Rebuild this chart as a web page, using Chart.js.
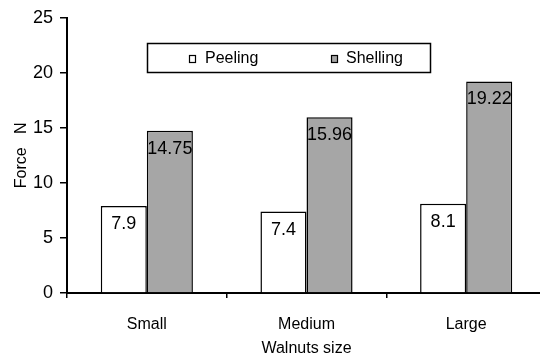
<!DOCTYPE html>
<html><head><meta charset="utf-8">
<script src="https://cdn.jsdelivr.net/npm/chart.js@4"></script>
<style>html,body{margin:0;padding:0;background:#fff;overflow:hidden}canvas{display:block}</style>
</head><body>
<canvas id="c" width="550" height="359"></canvas>
<script>
const categories = ['Small', 'Medium', 'Large'];
const seriesNames = ['Peeling', 'Shelling'];
const peeling = [7.9, 7.4, 8.1];
const shelling = [14.75, 15.96, 19.22];
const yTicks = [0, 5, 10, 15, 20, 25];
const xTitle = 'Walnuts size';
const yTitle = 'Force   N';

const FONT = "'Liberation Sans', Arial, sans-serif";
const colors = ['#ffffff', '#a6a6a6'];

const valueLabels = {
  id: 'valueLabels',
  afterDatasetsDraw(chart) {
    const ctx = chart.ctx;
    ctx.save();
    ctx.font = '18px ' + FONT;
    ctx.fillStyle = '#000';
    ctx.textAlign = 'center';
    ctx.textBaseline = 'middle';
    chart.data.datasets.forEach((ds, i) => {
      const meta = chart.getDatasetMeta(i);
      meta.data.forEach((el, j) => {
        ctx.fillText(String(ds.data[j]), el.x, el.y + 18);
      });
    });
    ctx.restore();
  }
};

const boxLegend = {
  id: 'boxLegend',
  afterDraw(chart) {
    const ctx = chart.ctx;
    ctx.save();
    ctx.strokeStyle = '#000';
    ctx.lineWidth = 1.5;
    ctx.strokeRect(147.5, 43.5, 283, 29);
    const items = [{mx: 189, tx: 205}, {mx: 331, tx: 346}];
    ctx.font = '16px ' + FONT;
    ctx.textBaseline = 'middle';
    ctx.textAlign = 'left';
    chart.data.datasets.forEach((ds, i) => {
      const it = items[i];
      ctx.fillStyle = ds.backgroundColor;
      ctx.fillRect(it.mx, 55, 6, 7);
      ctx.lineWidth = 1.2;
      ctx.strokeRect(it.mx + 0.5, 55.5, 6, 7);
      ctx.fillStyle = '#000';
      ctx.fillText(ds.label, it.tx, 59);
    });
    ctx.restore();
  }
};

new Chart(document.getElementById('c'), {
  type: 'bar',
  data: {
    labels: categories,
    datasets: [
      {label: seriesNames[0], data: peeling, backgroundColor: colors[0], borderColor: '#000', borderWidth: 1.5, borderSkipped: 'bottom'},
      {label: seriesNames[1], data: shelling, backgroundColor: colors[1], borderColor: '#000', borderWidth: 1.5, borderSkipped: 'bottom'}
    ]
  },
  options: {
    responsive: false,
    animation: false,
    categoryPercentage: 0.577,
    barPercentage: 1.0,
    layout: {padding: {top: 16, right: 4, left: 0, bottom: 0}},
    plugins: {legend: {display: false}, tooltip: {enabled: false}, title: {display: false}},
    scales: {
      x: {
        grid: {display: true, drawOnChartArea: false, tickLength: 5, color: '#000', lineWidth: 1.5, offset: true},
        border: {display: true, color: '#000', width: 2},
        ticks: {color: '#000', font: {family: FONT, size: 16}, padding: 17, maxRotation: 0},
        title: {display: true, text: xTitle, color: '#000', font: {family: FONT, size: 16}, padding: {top: 0, bottom: 1}},
        afterFit(scale) { scale.height = 66; }
      },
      y: {
        min: yTicks[0],
        max: yTicks[yTicks.length - 1],
        afterBuildTicks(scale) { scale.ticks = yTicks.map(v => ({value: v})); },
        grid: {display: true, drawOnChartArea: false, tickLength: 7, color: '#000', lineWidth: 1.5},
        border: {display: true, color: '#000', width: 2},
        ticks: {color: '#000', font: {family: FONT, size: 18}, padding: 7},
        title: {display: true, text: yTitle, color: '#000', font: {family: FONT, size: 16}, padding: {top: 12, bottom: 0}},
        afterFit(scale) { scale.width = 67; }
      }
    }
  },
  plugins: [valueLabels, boxLegend]
});
</script>
</body></html>
